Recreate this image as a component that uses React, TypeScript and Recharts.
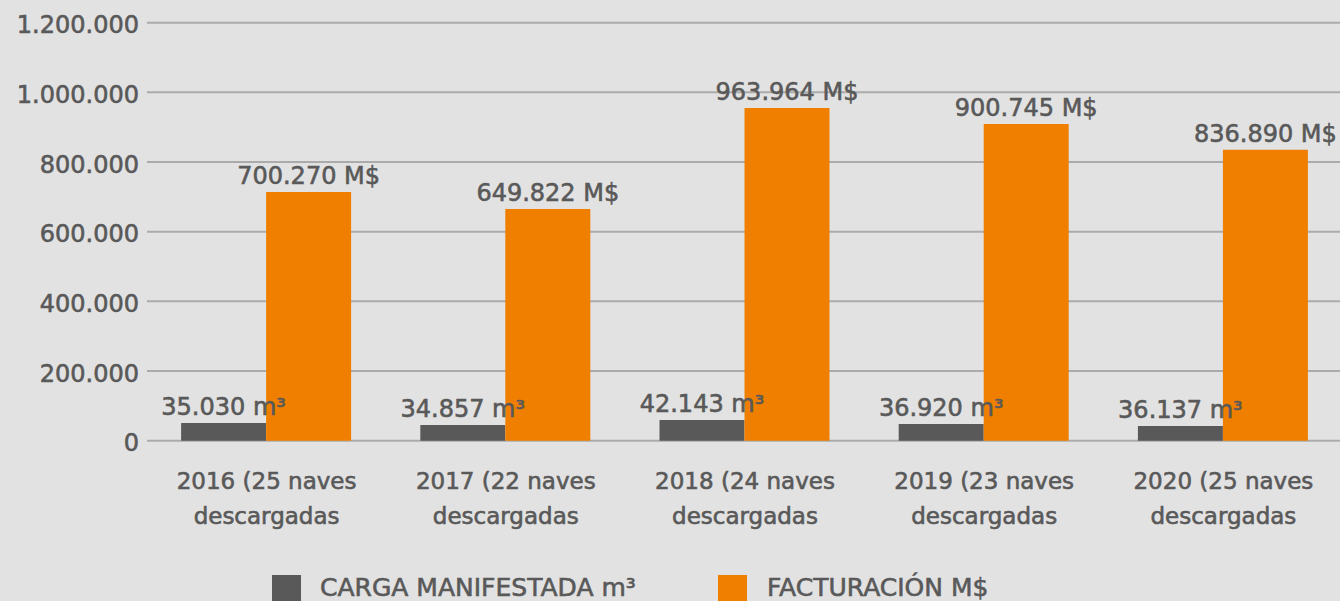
import React from 'react';
import { BarChart, Bar, XAxis, YAxis, CartesianGrid, LabelList, Legend } from 'recharts';

const categories = [
  '2016 (25 naves\ndescargadas',
  '2017 (22 naves\ndescargadas',
  '2018 (24 naves\ndescargadas',
  '2019 (23 naves\ndescargadas',
  '2020 (25 naves\ndescargadas',
];
const cargaValues = [50800, 45000, 59400, 48000, 42200];
const facturacionValues = [714000, 665000, 955000, 909000, 835000];
const cargaLabels = ['35.030 m³', '34.857 m³', '42.143 m³', '36.920 m³', '36.137 m³'];
const facturacionLabels = ['700.270 M$', '649.822 M$', '963.964 M$', '900.745 M$', '836.890 M$'];
const yTicks = [0, 200000, 400000, 600000, 800000, 1000000, 1200000];
const seriesNames = ['CARGA MANIFESTADA m³', 'FACTURACIÓN M$'];

const COLORS = { carga: '#595959', fact: '#f07f00', text: '#595959', grid: '#ababab', bg: '#e2e2e2' };
const FONT = '"DejaVu Sans", sans-serif';
const THICK = { stroke: '#595959', strokeWidth: 0.6 };

const data = categories.map((c, i) => ({
  name: c,
  carga: cargaValues[i],
  fact: facturacionValues[i],
  cargaLabel: cargaLabels[i],
  factLabel: facturacionLabels[i],
}));

const fmt = (v: number) => String(v).replace(/\B(?=(\d{3})+(?!\d))/g, '.');

const XTick = (props: any) => {
  const { x, y, payload } = props;
  const lines = String(payload.value).split('\n');
  return (
    <text x={x} y={y} textAnchor="middle" fill={COLORS.text} fontSize={23} fontFamily={FONT} {...THICK}>
      {lines.map((l, i) => (
        <tspan key={i} x={x} y={y + 40 + i * 35}>{l}</tspan>
      ))}
    </text>
  );
};

const YTick = (props: any) => {
  const { x, y, payload } = props;
  return (
    <text x={x} y={y + 2} dy="0.355em" textAnchor="end" fill={COLORS.text} fontSize={24} fontFamily={FONT} {...THICK}>
      {fmt(payload.value)}
    </text>
  );
};

const LegendContent = () => (
  <svg width={1343} height={40} style={{ display: 'block' }}>
    <rect x={272} y={3} width={29} height={29} fill={COLORS.carga} />
    <text x={320} y={23.5} fill={COLORS.text} fontSize={25} fontFamily={FONT} {...THICK}>{seriesNames[0]}</text>
    <rect x={718} y={3} width={29} height={29} fill={COLORS.fact} />
    <text x={767} y={23.5} fill={COLORS.text} fontSize={25} fontFamily={FONT} {...THICK}>{seriesNames[1]}</text>
  </svg>
);

export default function App() {
  return (
    <div style={{ position: 'absolute', left: 0, top: 0, width: 1340, height: 601, overflow: 'hidden', background: COLORS.bg }}>
      <BarChart
        width={1343}
        height={612}
        data={data}
        margin={{ top: 22.7, right: 0, bottom: 0, left: 0 }}
        barCategoryGap="14.26%"
        barGap={0}
      >
        <CartesianGrid vertical={false} stroke={COLORS.grid} strokeWidth={2} />
        <XAxis dataKey="name" axisLine={false} tickLine={false} height={131.3} tick={<XTick />} interval={0} />
        <YAxis
          width={147}
          domain={[0, 1200000]}
          ticks={yTicks}
          axisLine={false}
          tickLine={false}
          tick={<YTick />}
          interval={0}
        />
        <Legend verticalAlign="bottom" content={<LegendContent />} />
        <Bar dataKey="carga" name={seriesNames[0]} fill={COLORS.carga} isAnimationActive={false}>
          <LabelList dataKey="cargaLabel" position="top" offset={8} fill={COLORS.text} fontSize={24} fontFamily={FONT} {...THICK} />
        </Bar>
        <Bar dataKey="fact" name={seriesNames[1]} fill={COLORS.fact} isAnimationActive={false}>
          <LabelList dataKey="factLabel" position="top" offset={8} fill={COLORS.text} fontSize={24} fontFamily={FONT} {...THICK} />
        </Bar>
      </BarChart>
    </div>
  );
}
